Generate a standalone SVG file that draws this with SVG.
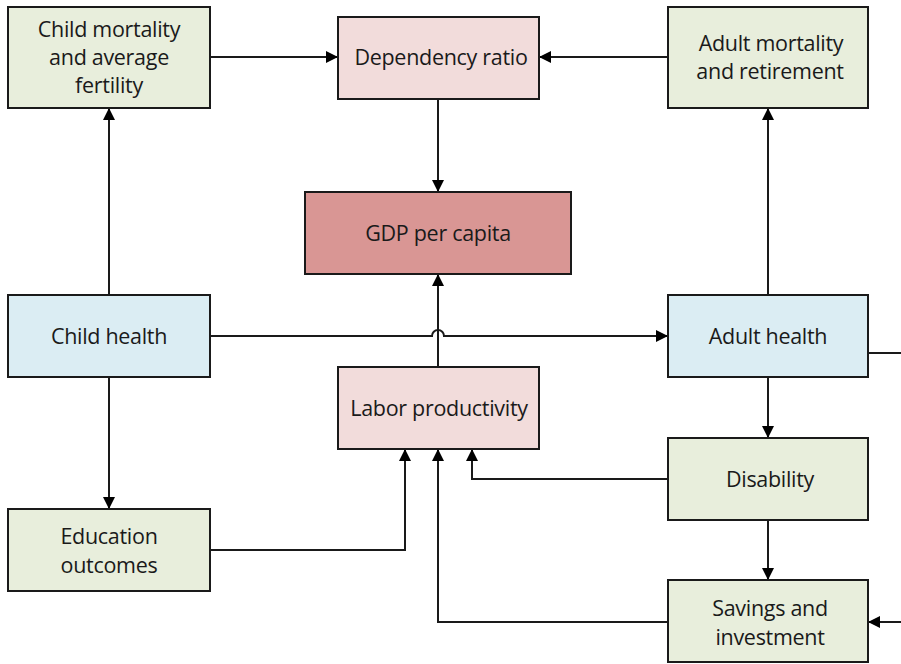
<svg xmlns="http://www.w3.org/2000/svg" width="901" height="664" viewBox="0 0 901 664">
<style>
.box{stroke:#1a1a1a;stroke-width:2}
.g{fill:#e8eedc}
.b{fill:#dbedf3}
.p{fill:#f2dcdb}
.r{fill:#d99694}
.t{font-family:"Open Sans","Noto Sans",sans-serif;font-size:21.5px;fill:#1a1a1a;text-anchor:middle;letter-spacing:-0.3px}
.c{fill:none;stroke:#1a1a1a;stroke-width:2}
</style>
<defs>
<marker id="a" viewBox="0 0 12 12" refX="12" refY="6" markerWidth="12" markerHeight="12" markerUnits="userSpaceOnUse" orient="auto">
<path d="M0,0 L12,6 L0,12 Z" fill="#000"/>
</marker>
</defs>
<rect width="901" height="664" fill="#fff"/>
<g id="connectors">
<path class="c" d="M210,57 H338" marker-end="url(#a)"/>
<path class="c" d="M668,57 H539" marker-end="url(#a)"/>
<path class="c" d="M438,99 V192" marker-end="url(#a)"/>
<path class="c" d="M109,295 V108" marker-end="url(#a)"/>
<path class="c" d="M210,336 H432 A6,6 0 0 1 444,336 H668" marker-end="url(#a)"/>
<path class="c" d="M438,367 V274" marker-end="url(#a)"/>
<path class="c" d="M768,295 V108" marker-end="url(#a)"/>
<path class="c" d="M768,377 V438" marker-end="url(#a)"/>
<path class="c" d="M109,377 V509" marker-end="url(#a)"/>
<path class="c" d="M210,550 H405 V449" marker-end="url(#a)"/>
<path class="c" d="M668,479 H472 V449" marker-end="url(#a)"/>
<path class="c" d="M668,622 H438 V449" marker-end="url(#a)"/>
<path class="c" d="M768,520 V580" marker-end="url(#a)"/>
<path class="c" d="M868,353 H910 V622 H868" marker-end="url(#a)"/>
</g>
<g id="child-mortality"><rect class="box g" x="8" y="7" width="202" height="101"/><text class="t" x="109" y="37">Child mortality</text><text class="t" x="109" y="65">and average</text><text class="t" x="109" y="93">fertility</text></g>
<g id="dependency-ratio"><rect class="box p" x="338" y="17" width="201" height="82"/><text class="t" x="441" y="65">Dependency ratio</text></g>
<g id="adult-mortality"><rect class="box g" x="668" y="7" width="200" height="101"/><text class="t" x="771" y="51">Adult mortality</text><text class="t" x="770" y="79">and retirement</text></g>
<g id="gdp"><rect class="box r" x="305" y="192" width="266" height="82"/><text class="t" x="438" y="241">GDP per capita</text></g>
<g id="child-health"><rect class="box b" x="8" y="295" width="202" height="82"/><text class="t" x="109" y="344">Child health</text></g>
<g id="adult-health"><rect class="box b" x="668" y="295" width="200" height="82"/><text class="t" x="768" y="344">Adult health</text></g>
<g id="labor-productivity"><rect class="box p" x="338" y="367" width="201" height="82"/><text class="t" x="439" y="416">Labor productivity</text></g>
<g id="disability"><rect class="box g" x="668" y="438" width="200" height="82"/><text class="t" x="770" y="487">Disability</text></g>
<g id="education"><rect class="box g" x="8" y="509" width="202" height="82"/><text class="t" x="109" y="544">Education</text><text class="t" x="109" y="573">outcomes</text></g>
<g id="savings"><rect class="box g" x="668" y="580" width="200" height="82"/><text class="t" x="770" y="616">Savings and</text><text class="t" x="770" y="645">investment</text></g>
</svg>
